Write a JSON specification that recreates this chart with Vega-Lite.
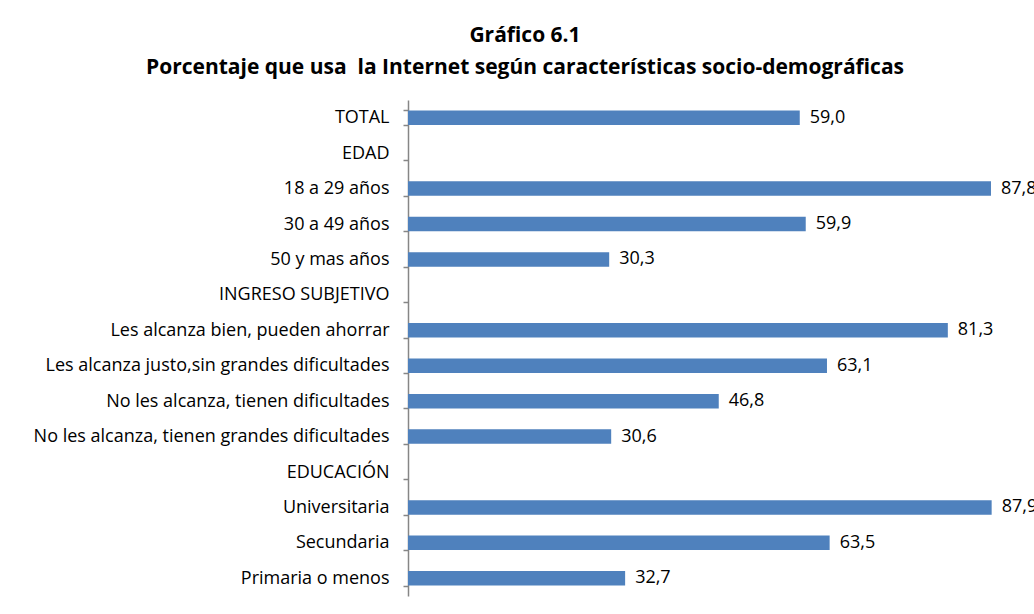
{
  "$schema": "https://vega.github.io/schema/vega-lite/v6.json",
  "autosize": "none",
  "width": 664,
  "height": 496,
  "padding": {"left": 408, "top": 100, "right": 0, "bottom": 18},
  "background": "white",
  "config": {
    "view": {"stroke": null},
    "font": "Open Sans",
    "locale": {"number": {"decimal": ",", "thousands": ".", "grouping": [3], "currency": ["", ""]}}
  },
  "title": {
    "text": ["Gráfico 6.1", "Porcentaje que usa\u00a0 la Internet según características socio-demográficas"],
    "font": "Open Sans",
    "fontSize": 21,
    "fontWeight": "bold",
    "anchor": "middle",
    "frame": "group",
    "dx": -215,
    "offset": 13,
    "lineHeight": 32,
    "color": "black"
  },
  "data": {
    "values": [
      {"cat": "TOTAL", "v": 59.0},
      {"cat": "EDAD", "v": null},
      {"cat": "18 a 29 años", "v": 87.8},
      {"cat": "30 a 49 años", "v": 59.9},
      {"cat": "50 y mas años", "v": 30.3},
      {"cat": "INGRESO SUBJETIVO ", "v": null},
      {"cat": "Les alcanza bien, pueden ahorrar", "v": 81.3},
      {"cat": "Les alcanza justo,sin grandes dificultades", "v": 63.1},
      {"cat": "No les alcanza, tienen dificultades", "v": 46.8},
      {"cat": "No les alcanza, tienen grandes dificultades", "v": 30.6},
      {"cat": "EDUCACIÓN", "v": null},
      {"cat": "Universitaria", "v": 87.9},
      {"cat": "Secundaria", "v": 63.5},
      {"cat": "Primaria o menos", "v": 32.7}
    ]
  },
  "encoding": {
    "y": {
      "field": "cat",
      "type": "nominal",
      "title": null,
      "sort": null,
      "scale": {
        "domain": ["TOTAL", "EDAD", "18 a 29 años", "30 a 49 años", "50 y mas años", "INGRESO SUBJETIVO ", "Les alcanza bien, pueden ahorrar", "Les alcanza justo,sin grandes dificultades", "No les alcanza, tienen dificultades", "No les alcanza, tienen grandes dificultades", "EDUCACIÓN", "Universitaria", "Secundaria", "Primaria o menos"],
        "paddingInner": 0.59,
        "paddingOuter": 0.295
      },
      "axis": {
        "domainColor": "#868686",
        "domainWidth": 1.5,
        "tickColor": "#868686",
        "tickWidth": 1.5,
        "tickSize": 5,
        "tickBand": "extent",
        "labelFont": "Open Sans",
        "labelFontSize": 18,
        "labelColor": "black",
        "labelPadding": 14,
        "labelLimit": 500,
        "grid": false
      }
    }
  },
  "layer": [
    {
      "mark": {"type": "bar", "color": "#4F81BD"},
      "encoding": {
        "x": {"field": "v", "type": "quantitative", "scale": {"domain": [0, 100]}, "axis": null}
      }
    },
    {
      "transform": [{"filter": "datum.v != null"}],
      "mark": {"type": "text", "align": "left", "baseline": "middle", "dx": 10, "fontSize": 18, "font": "Open Sans", "color": "black"},
      "encoding": {
        "x": {"field": "v", "type": "quantitative"},
        "text": {"field": "v", "type": "quantitative", "format": ".1f"}
      }
    }
  ]
}
